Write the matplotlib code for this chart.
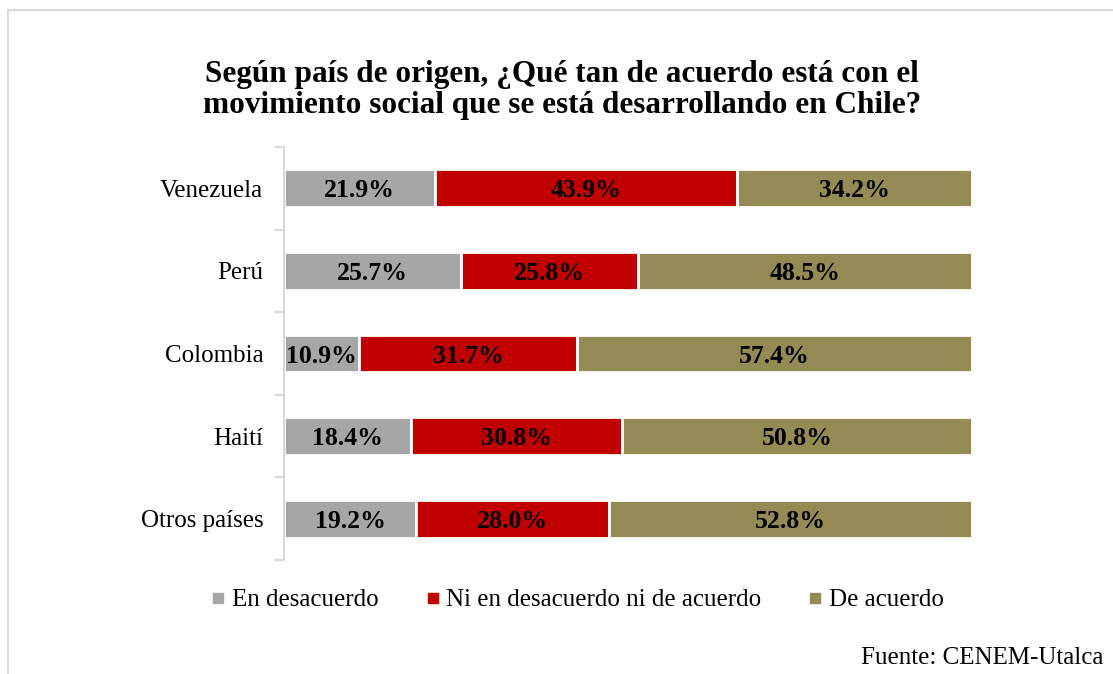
import matplotlib.pyplot as plt
from matplotlib.lines import Line2D

plt.rcParams['font.family'] = ['Liberation Serif', 'DejaVu Serif']

# data
paises = ['Venezuela', 'Perú', 'Colombia', 'Haití', 'Otros países']
en_desacuerdo = [21.9, 25.7, 10.9, 18.4, 19.2]
ni_ni = [43.9, 25.8, 31.7, 30.8, 28.0]
de_acuerdo = [34.2, 48.5, 57.4, 50.8, 52.8]

series = ['En desacuerdo', 'Ni en desacuerdo ni de acuerdo', 'De acuerdo']
colores = ['#A6A6A6', '#C00000', '#948A54']

W, H = 1113, 674
fig = plt.figure(figsize=(W / 100, H / 100), dpi=100)
ax = fig.add_axes([284 / W, 1 - 560 / H, (972 - 284) / W, (560 - 147) / H])

y = list(range(len(paises)))
left = [0] * len(paises)
for vals, col in zip([en_desacuerdo, ni_ni, de_acuerdo], colores):
    bars = ax.barh(y, vals, left=left, height=0.46, color=col,
                   edgecolor='white', linewidth=2)
    for b, v in zip(bars, vals):
        ax.text(b.get_x() + b.get_width() / 2, b.get_y() + b.get_height() / 2,
                f'{v:.1f}%', ha='center', va='center_baseline', fontsize=18.5,
                fontweight='bold', color='black')
    left = [l + v for l, v in zip(left, vals)]

ax.set_xlim(0, 100)
ax.set_ylim(len(paises) - 0.5, -0.5)
ax.set_yticks(y)
ax.set_yticklabels(paises, fontsize=18)
ax.set_yticks([i - 0.5 for i in range(len(paises) + 1)], minor=True)
ax.tick_params(axis='y', which='major', length=0, pad=15)
ax.tick_params(axis='y', which='minor', length=7, color='#D9D9D9', width=1.5)
ax.set_xticks([])
for s in ['top', 'right', 'bottom']:
    ax.spines[s].set_visible(False)
ax.spines['left'].set_color('#D9D9D9')
ax.spines['left'].set_linewidth(1.5)

fig.text(562 / W, 1 - 90 / H,
         'Según país de origen, ¿Qué tan de acuerdo está con el\n'
         'movimiento social que se está desarrollando en Chile?',
         ha='center', va='center', fontsize=22.5, fontweight='bold',
         linespacing=1.07)

handles = [Line2D([], [], marker='s', linestyle='', markersize=7,
                  color=c) for c in colores]
fig.legend(handles, series, loc='center', bbox_to_anchor=(578 / W, 1 - 600 / H),
           ncol=3, frameon=False, fontsize=18, handlelength=0.5,
           handletextpad=0.3, columnspacing=1.9)

fig.text(1103 / W, 1 - 658 / H, 'Fuente: CENEM-Utalca', ha='right',
         va='center', fontsize=18)

# chart border
fig.add_artist(Line2D([8 / W, 1], [1 - 10 / H, 1 - 10 / H], color='#D9D9D9',
                      linewidth=1.5, transform=fig.transFigure))
fig.add_artist(Line2D([8 / W, 8 / W], [0, 1 - 10 / H], color='#D9D9D9',
                      linewidth=1.5, transform=fig.transFigure))

fig.savefig('out.png', dpi=100, facecolor='white')
